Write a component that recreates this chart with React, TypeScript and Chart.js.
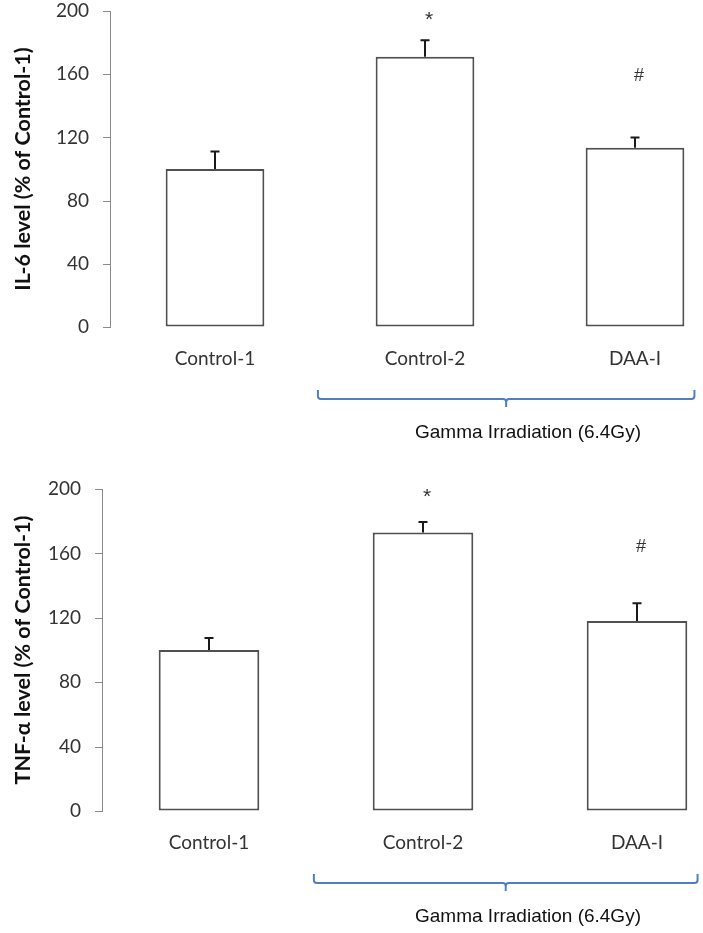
import React, { useEffect, useRef } from "react";
import { Chart, registerables } from "chart.js";

Chart.register(...registerables);

// ---------- data ----------
const categories = ["Control-1", "Control-2", "DAA-I"];
const yTickStep = 40;
const yMin = 0;
const yMax = 200;

const il6Title = "IL-6 level (% of Control-1)";
const il6Values = [100, 171, 113.5];
const il6Errors = [11, 10.5, 6.5];
const il6Marks = ["", "*", "#"];
const il6MarkLevels = [null, 196, 159];

const tnfTitle = "TNF-α level (% of Control-1)";
const tnfValues = [100, 173, 118];
const tnfErrors = [7.5, 6.5, 11];
const tnfMarks = ["", "*", "#"];
const tnfMarkLevels = [null, 197, 164];

const bracketLabel = "Gamma Irradiation (6.4Gy)";

// ---------- styling ----------
const FONT = "Lato, 'Open Sans', sans-serif";
const BRACKET_FONT = "'Liberation Sans', Arial, sans-serif";
const AXIS_GREY = "#8a8a8a";
const TEXT = "#333333";
const BRACKET_BLUE = "#4f7fc0";

type PanelProps = {
  top: number;
  width: number;
  height: number;
  areaLeft: number;
  areaTop: number;
  areaBottom: number;
  areaRight: number;
  title: string;
  values: number[];
  errors: number[];
  marks: string[];
  markLevels: (number | null)[];
};

function Panel(p: PanelProps) {
  const ref = useRef<HTMLCanvasElement>(null);

  useEffect(() => {
    if (!ref.current) return;

    const overlay = {
      id: "overlay",
      afterDatasetsDraw(chart: any) {
        const ctx = chart.ctx;
        const ys = chart.scales.y;
        const xs = chart.scales.x;
        const meta = chart.getDatasetMeta(0);
        ctx.save();

        // y tick marks (short, outside)
        ctx.strokeStyle = AXIS_GREY;
        ctx.lineWidth = 1;
        ys.ticks.forEach((t: any) => {
          const y = Math.round(ys.getPixelForValue(t.value)) + 0.5;
          ctx.beginPath();
          ctx.moveTo(ys.right - 7, y);
          ctx.lineTo(ys.right, y);
          ctx.stroke();
        });

        // error bars (upper only)
        ctx.strokeStyle = "#1a1a1a";
        ctx.lineWidth = 2;
        meta.data.forEach((bar: any, i: number) => {
          const x = bar.x;
          const yb = ys.getPixelForValue(p.values[i]);
          const yt = ys.getPixelForValue(p.values[i] + p.errors[i]);
          ctx.beginPath();
          ctx.moveTo(x, yb);
          ctx.lineTo(x, yt);
          ctx.moveTo(x - 4.5, yt);
          ctx.lineTo(x + 4.5, yt);
          ctx.stroke();
        });

        // significance marks
        ctx.fillStyle = "#333";
        ctx.textAlign = "center";
        ctx.textBaseline = "middle";
        meta.data.forEach((bar: any, i: number) => {
          const lvl = p.markLevels[i];
          if (lvl == null || !p.marks[i]) return;
          const isStar = p.marks[i] === "*";
          ctx.font = `${isStar ? 21 : 18}px ${BRACKET_FONT}`;
          ctx.fillText(p.marks[i], bar.x + 4, ys.getPixelForValue(lvl) + (isStar ? 3 : 0));
        });

        // bracket
        const x1 = xs.getPixelForValue(1);
        const x2 = xs.getPixelForValue(2);
        const cw = x2 - x1;
        const left = x1 - 0.51 * cw;
        const right = x2 + 0.283 * cw;
        const center = (left + right) / 2;
        const base = chart.chartArea.bottom;
        const t = base + 63;
        const m = base + 72;
        const b = base + 80;
        const r = 3;
        ctx.strokeStyle = BRACKET_BLUE;
        ctx.lineWidth = 2;
        ctx.beginPath();
        ctx.moveTo(left, t);
        ctx.lineTo(left, m - r);
        ctx.quadraticCurveTo(left, m, left + r, m);
        ctx.lineTo(center - r, m);
        ctx.quadraticCurveTo(center, m, center, m + r);
        ctx.lineTo(center, b);
        ctx.moveTo(center, m + r);
        ctx.quadraticCurveTo(center, m, center + r, m);
        ctx.lineTo(right - r, m);
        ctx.quadraticCurveTo(right, m, right, m - r);
        ctx.lineTo(right, t);
        ctx.stroke();

        // bracket label
        ctx.fillStyle = "#111";
        ctx.font = `19px ${BRACKET_FONT}`;
        ctx.textAlign = "center";
        ctx.textBaseline = "middle";
        ctx.fillText(bracketLabel, (x1 + x2) / 2 - 2, base + 106);
        ctx.restore();
      },
    };

    const chart = new Chart(ref.current, {
      type: "bar",
      data: {
        labels: categories,
        datasets: [
          {
            data: p.values,
            backgroundColor: "#ffffff",
            borderColor: "#505050",
            borderWidth: 2,
            borderSkipped: false,
            barPercentage: 0.47,
            categoryPercentage: 1,
          },
        ],
      },
      options: {
        responsive: false,
        animation: false,
        devicePixelRatio: 1,
        layout: {
          padding: { left: 0, top: p.areaTop, right: p.width - p.areaRight, bottom: 0 },
        },
        plugins: {
          legend: { display: false },
          tooltip: { enabled: false },
        },
        scales: {
          x: {
            type: "category",
            offset: true,
            grid: { display: false, drawTicks: false },
            border: { display: false },
            ticks: {
              color: TEXT,
              font: { family: FONT, size: 19 },
              padding: 20,
              maxRotation: 0,
              autoSkip: false,
            },
            afterFit: (s: any) => {
              s.height = p.height - p.areaBottom;
            },
          },
          y: {
            min: yMin,
            max: yMax,
            ticks: {
              stepSize: yTickStep,
              color: TEXT,
              font: { family: FONT, size: 19, lineHeight: 1.1 },
              padding: 0,
            },
            grid: {
              drawOnChartArea: false,
              drawTicks: true,
              tickLength: 21,
              tickColor: "rgba(0,0,0,0)",
              color: "rgba(0,0,0,0)",
            },
            border: { display: true, color: AXIS_GREY, width: 1 },
            title: {
              display: true,
              text: p.title,
              color: "#111",
              font: { family: FONT, size: 21.5, weight: "bold" },
              padding: { top: 10, bottom: 0 },
            },
            afterFit: (s: any) => {
              s.width = p.areaLeft;
            },
          },
        },
      },
      plugins: [overlay],
    } as any);

    return () => chart.destroy();
  }, []);

  return (
    <canvas
      ref={ref}
      width={p.width}
      height={p.height}
      style={{ position: "absolute", left: 0, top: p.top, width: p.width, height: p.height, display: "block" }}
    />
  );
}

export default function App() {
  return (
    <div
      style={{
        position: "absolute",
        left: 0,
        top: 0,
        width: 703,
        height: 933,
        overflow: "hidden",
        background: "#ffffff",
      }}
    >
      <Panel
        top={0}
        width={760}
        height={465}
        areaLeft={110}
        areaTop={11}
        areaBottom={327}
        areaRight={740}
        title={il6Title}
        values={il6Values}
        errors={il6Errors}
        marks={il6Marks}
        markLevels={il6MarkLevels}
      />
      <Panel
        top={465}
        width={760}
        height={468}
        areaLeft={102}
        areaTop={24}
        areaBottom={346}
        areaRight={744}
        title={tnfTitle}
        values={tnfValues}
        errors={tnfErrors}
        marks={tnfMarks}
        markLevels={tnfMarkLevels}
      />
    </div>
  );
}
